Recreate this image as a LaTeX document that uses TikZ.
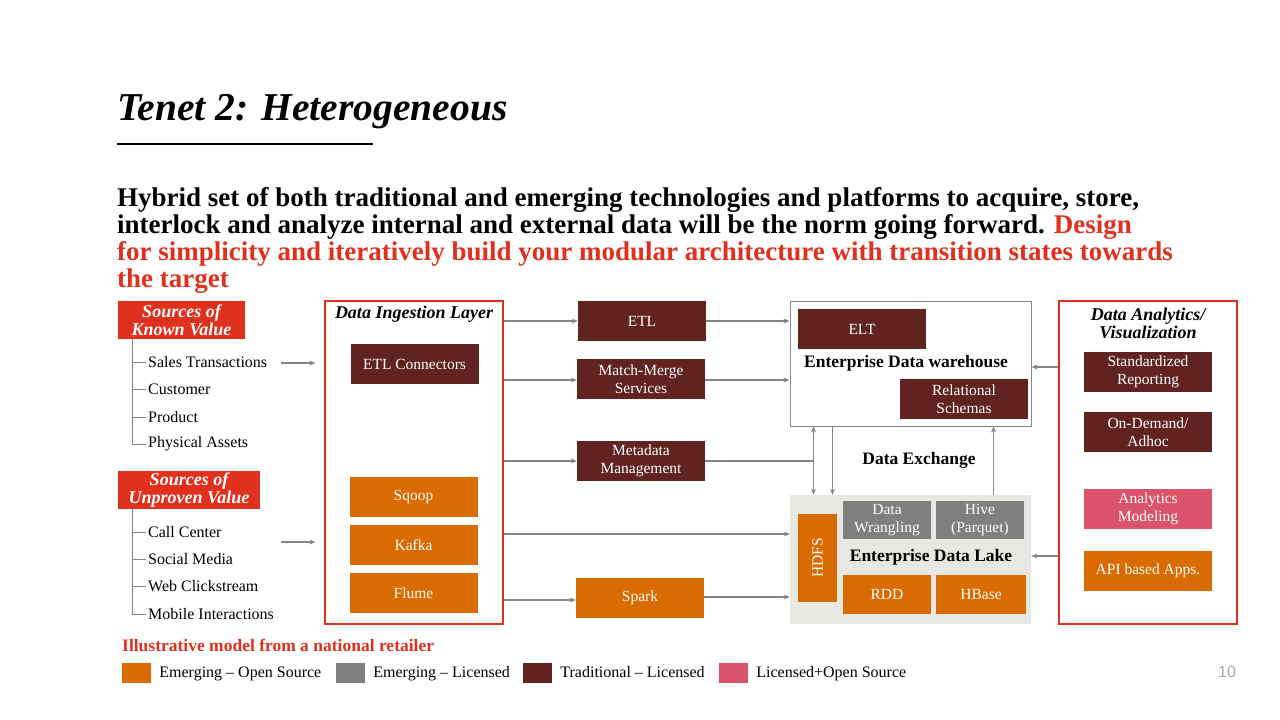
\documentclass[tikz,border=0pt]{standalone}
\usepackage{fontspec}
\setmainfont{Liberation Serif}
\setsansfont{Liberation Sans}
\usetikzlibrary{arrows.meta, positioning}

\definecolor{pwcred}{HTML}{E0301E}
\definecolor{tradbrown}{HTML}{602320}
\definecolor{emorange}{HTML}{D96B00}
\definecolor{emgrey}{HTML}{7F7F7F}
\definecolor{mixpink}{HTML}{DB536A}
\definecolor{lakebg}{HTML}{E9E7E2}
\definecolor{linegrey}{HTML}{858585}
\definecolor{pagegrey}{HTML}{A6A6A6}

\newcommand{\fsz}[2]{\fontsize{#1}{#2}\selectfont}

\begin{document}
\begin{tikzpicture}[
    x=1pt, y=-1pt,
    node distance=8pt,
    box/.style={minimum width=128pt, minimum height=40pt, inner sep=1pt, align=center, text=white, font=\fsz{15.5}{18}},
    tradbox/.style={box, fill=tradbrown},
    openbox/.style={box, fill=emorange},
    licbox/.style={box, fill=emgrey, minimum width=88pt, minimum height=38pt},
    mixbox/.style={box, fill=mixpink},
    srcbox/.style={fill=pwcred, text=white, font=\bfseries\itshape\fsz{18}{18}, align=center, inner sep=1pt, minimum height=38pt},
    item/.style={font=\fsz{16}{18}, anchor=west, inner sep=2pt},
    layer/.style={draw=pwcred, line width=1.2pt, minimum width=178pt, minimum height=323pt},
    layertitle/.style={font=\bfseries\itshape\fsz{18}{18}, align=center},
    head/.style={font=\bfseries\fsz{17.5}{19}},
    arrow/.style={-{Stealth[length=6pt,width=5pt]}, draw=linegrey, line width=1.5pt},
    link/.style={draw=linegrey, line width=1.5pt},
    tree/.style={draw=linegrey, line width=0.8pt},
    keybox/.style={minimum width=29pt, minimum height=20pt, inner sep=0pt},
    keytext/.style={font=\fsz{16}{18}, inner sep=0pt, text height=11pt, text depth=3pt}
]
\useasboundingbox (0,0) rectangle (1280,720);

% title
\node[anchor=base west, inner sep=0pt, font=\bfseries\itshape\fsz{39.5}{42}] (title) at (117,120) {Tenet 2: Heterogeneous};
\draw[line width=1.5pt] (117,144) -- (373,144);

\node[anchor=base west, inner sep=0pt, font=\bfseries\fsz{27}{27}] (line1) at (117,206) {Hybrid set of both traditional and emerging technologies and platforms to acquire, store,};
\node[anchor=base west, inner sep=0pt, font=\bfseries\fsz{27}{27}] (line2) at (117,233) {interlock and analyze internal and external data will be the norm going forward. \textcolor{pwcred}{Design}};
\node[anchor=base west, inner sep=0pt, font=\bfseries\fsz{27}{27}, text=pwcred] (line3) at (117,260) {for simplicity and iteratively build your modular architecture with transition states towards};
\node[anchor=base west, inner sep=0pt, font=\bfseries\fsz{27}{27}, text=pwcred] (line4) at (117,287) {the target};

% sources
\node[srcbox, minimum width=127pt] (known) at (181.5,320) {Sources of\\Known Value};
\node[item] (k1) at (146,362) {Sales Transactions};
\node[item] (k2) at (146,389) {Customer};
\node[item] (k3) at (146,417) {Product};
\node[item] (k4) at (146,444) {Physical Assets};
\coordinate (ktop) at (132,339);
\draw[tree] (ktop) |- (k4.west);
\draw[tree] (ktop |- k1.west) -- (k1.west);
\draw[tree] (ktop |- k2.west) -- (k2.west);
\draw[tree] (ktop |- k3.west) -- (k3.west);

\node[srcbox, minimum width=142pt] (unproven) at (189,490) {Sources of\\Unproven Value};
\node[item] (u1) at (146,532) {Call Center};
\node[item] (u2) at (146,559) {Social Media};
\node[item] (u3) at (146,586) {Web Clickstream};
\node[item] (u4) at (146,614) {Mobile Interactions};
\coordinate (utop) at (132,509);
\draw[tree] (utop) |- (u4.west);
\draw[tree] (utop |- u1.west) -- (u1.west);
\draw[tree] (utop |- u2.west) -- (u2.west);
\draw[tree] (utop |- u3.west) -- (u3.west);

% ingestion layer
\node[layer] (ingest) at (414,462.5) {};
\node[layertitle] (ingtitle) at (414,314) {Data Ingestion Layer};
\node[tradbox] (etlconn) at (414.5,364) {ETL Connectors};
\node[openbox] (sqoop) at (413.5,497) {Sqoop};
\node[openbox] (kafka) at (413.5,545) {Kafka};
\node[openbox] (flume) at (413.5,593) {Flume};

\coordinate (kout) at (281,363);
\coordinate (uout) at (281,542);
\draw[arrow, shorten >=9pt] (kout) -- (kout -| ingest.west);
\draw[arrow, shorten >=9pt] (uout) -- (uout -| ingest.west);

% processing
\node[tradbox] (etl) at (642,321) {ETL};
\node[tradbox] (merge) at (641,379) {Match-Merge\\Services};
\node[tradbox] (meta) at (641,461) {Metadata\\Management};
\node[openbox] (spark) at (640,598) {Spark};

% warehouse
\node[draw=linegrey, line width=1pt, fill=white, minimum width=241pt, minimum height=125pt] (edw) at (910.5,363.5) {};
\node[tradbox] (elt) at (862,329) {ELT};
\node[head] (edwlabel) at (906,363) {Enterprise Data warehouse};
\node[tradbox] (rel) at (964,399) {Relational\\Schemas};

% lake
\node[fill=lakebg, minimum width=241pt, minimum height=129pt] (lake) at (910.5,559.5) {};
\node[openbox, minimum width=88pt, minimum height=39pt, rotate=90] (hdfs) at (817.5,558) {HDFS};
\node[licbox] (wrangle) at (887,520) {Data\\Wrangling};
\node[licbox] (hive) at (980,520) {Hive\\(Parquet)};
\node[head] (lakelabel) at (931,557) {Enterprise Data Lake};
\node[openbox, minimum width=88pt, minimum height=39pt] (rdd) at (887,594.5) {RDD};
\node[openbox, minimum width=90pt, minimum height=39pt] (hbase) at (981,594.5) {HBase};

\node[head] (xchg) at (919,460) {Data Exchange};

% analytics
\node[layer] (analytics) at (1148,462.5) {};
\node[layertitle] (antitle) at (1148,323) {Data Analytics/\\Visualization};
\node[tradbox] (std) at (1148,372) {Standardized\\Reporting};
\node[tradbox] (adhoc) at (1148,432) {On-Demand/\\Adhoc};
\node[mixbox] (model) at (1148,509) {Analytics\\Modeling};
\node[openbox] (api) at (1148,571) {API based Apps.};

% connectors
\draw[arrow] (ingest.east |- etl.west) -- (etl.west);
\draw[arrow] (ingest.east |- 0,380) -- (merge.west |- 0,380);
\draw[arrow] (ingest.east |- meta.west) -- (meta.west);
\draw[arrow] (ingest.east |- 0,534) -- (lake.west |- 0,534);
\draw[arrow] (ingest.east |- 0,600) -- (spark.west |- 0,600);

\draw[arrow] (etl.east) -- (etl.east -| edw.west);
\draw[arrow] (merge.east |- 0,380) -- (edw.west |- 0,380);
\draw[arrow] (spark.east |- 0,597) -- (lake.west |- 0,597);

\coordinate (xa) at ([xshift=24pt]edw.south west);
\coordinate (xb) at ([xshift=43pt]edw.south west);
\coordinate (xc) at ([xshift=204pt]edw.south west);
\draw[link] (meta.east) -- (meta.east -| xa);
\draw[arrow, {Stealth[length=6pt,width=5pt]}-{Stealth[length=6pt,width=5pt]}] (xa) -- (xa |- lake.north);
\draw[arrow] (xb) -- (xb |- lake.north);
\draw[arrow] (xc |- lake.north) -- (xc);

\draw[arrow] (analytics.west |- 0,367) -- (edw.east |- 0,367);
\draw[arrow] (analytics.west |- 0,556) -- (lake.east |- 0,556);

% legend
\node[anchor=west, inner sep=0pt, text=pwcred, font=\bfseries\fsz{17.5}{18}] (note) at (122,645) {Illustrative model from a national retailer};
\node[keybox, fill=emorange] (key1) at (136.5,673) {};
\node[keytext, right=of key1] (key1text) {Emerging -- Open Source};
\node[keybox, fill=emgrey] (key2) at (350.5,673) {};
\node[keytext, right=of key2] (key2text) {Emerging -- Licensed};
\node[keybox, fill=tradbrown] (key3) at (537.5,673) {};
\node[keytext, right=of key3] (key3text) {Traditional -- Licensed};
\node[keybox, fill=mixpink] (key4) at (733.5,673) {};
\node[keytext, right=of key4] (key4text) {Licensed+Open Source};

\node[text=pagegrey, font=\sffamily\fsz{16}{18}] (pagenum) at (1227,672) {10};
\end{tikzpicture}
\end{document}
